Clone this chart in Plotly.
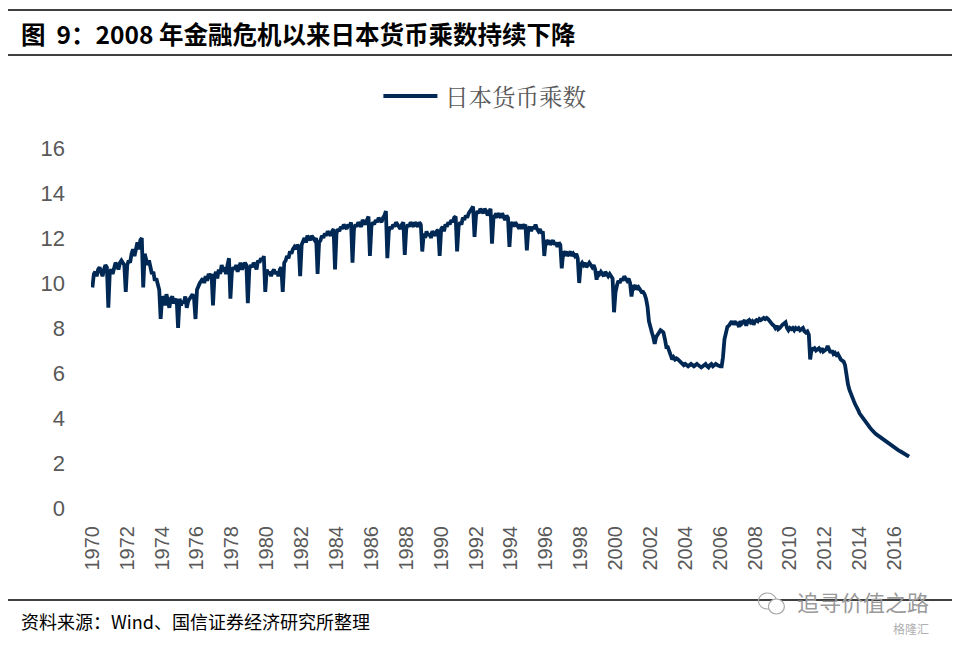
import pandas as pd
import plotly.graph_objects as go

# Monthly Japanese money multiplier, Jan 1970 .. Nov 2016
values_1970s = [
    9.8, 10.4, 10.5, 10.3, 10.6, 10.7, 10.5, 10.3, 10.6, 10.8, 10.7, 8.9,
    10.5, 10.6, 10.4, 10.7, 10.9, 10.8, 10.6, 10.9, 11.0, 10.9, 10.8, 9.6,
    10.8, 11.0, 10.9, 11.3, 11.5, 11.2, 11.6, 11.8, 11.5, 11.9, 12.0, 9.8,
    11.3, 11.1, 10.8, 11.0, 10.6, 10.4, 10.5, 10.1, 10.2, 9.9, 9.7, 8.4,
    9.4, 9.3, 9.0, 9.5, 9.2, 8.9, 9.3, 9.4, 9.1, 9.2, 9.3, 8.0,
    9.3, 9.0, 9.2, 9.1, 9.4, 8.9, 9.2, 9.3, 9.4, 9.5, 9.3, 8.4,
    9.7, 9.9, 10.0, 10.1, 10.2, 10.0, 10.3, 10.1, 10.4, 10.3, 10.4, 9.0,
    10.3, 10.5, 10.2, 10.6, 10.4, 10.8, 10.5, 10.7, 10.4, 10.8, 11.1, 9.3,
    10.5, 10.7, 10.6, 10.8, 10.5, 10.7, 10.9, 10.6, 10.8, 10.9, 10.8, 9.1,
    10.6, 10.8, 10.7, 10.9, 10.8, 10.6, 11.0, 10.9, 11.1, 11.0, 11.2, 9.6,
]
values_1980s = [
    10.6, 10.4, 10.5, 10.3, 10.5, 10.6, 10.4, 10.5, 10.3, 10.6, 10.7, 9.6,
    10.9, 11.0, 11.2, 11.1, 11.4, 11.3, 11.5, 11.6, 11.5, 11.7, 11.6, 10.3,
    11.7, 11.9, 12.0, 11.8, 12.1, 12.0, 11.9, 12.1, 12.0, 11.9, 12.0, 10.4,
    11.8, 11.9, 12.1, 12.0, 12.2, 12.1, 12.3, 12.2, 12.1, 12.3, 12.4, 10.6,
    12.2, 12.4, 12.3, 12.5, 12.4, 12.6, 12.5, 12.4, 12.6, 12.5, 12.7, 10.9,
    12.4, 12.6, 12.5, 12.7, 12.6, 12.5, 12.8, 12.7, 12.6, 12.8, 12.95, 11.2,
    12.5, 12.7, 12.6, 12.8, 12.7, 12.9, 12.8, 12.7, 12.9, 13.0, 13.2, 11.1,
    12.3, 12.5, 12.4, 12.6, 12.5, 12.7, 12.6, 12.5, 12.4, 12.6, 12.7, 11.25,
    12.4, 12.6, 12.5, 12.7, 12.6, 12.5, 12.7, 12.6, 12.5, 12.7, 12.6, 11.4,
    12.2, 12.0, 12.3, 12.1, 12.2, 12.0, 12.3, 12.2, 12.1, 12.3, 12.35, 11.2,
]
values_1990s = [
    12.4, 12.5, 12.3, 12.6, 12.5, 12.7, 12.6, 12.8, 12.7, 12.9, 12.95, 11.4,
    12.5, 12.7, 12.6, 12.9, 12.8, 13.0, 12.9, 13.1, 13.2, 13.3, 13.4, 12.05,
    13.0, 13.2, 13.1, 13.3, 13.2, 13.1, 13.3, 13.2, 13.0, 13.2, 13.3, 11.75,
    12.9, 13.0, 12.9, 13.1, 13.0, 12.9, 13.1, 12.9, 12.8, 13.0, 12.9, 11.6,
    12.6, 12.7, 12.5, 12.7, 12.6, 12.5, 12.6, 12.4, 12.6, 12.5, 12.6, 11.45,
    12.4, 12.5, 12.3, 12.5, 12.4, 12.6, 12.4, 12.3, 12.4, 12.2, 12.3, 11.2,
    11.9, 11.8, 11.9, 11.7, 11.8, 11.9, 11.7, 11.8, 11.6, 11.8, 11.7, 10.65,
    11.4, 11.3, 11.4, 11.2, 11.3, 11.4, 11.2, 11.3, 11.2, 11.3, 11.1, 10.0,
    10.8, 10.9, 10.8, 10.9, 10.7, 10.8, 10.9, 10.8, 10.7, 10.8, 10.6, 10.15,
    10.5, 10.4, 10.5, 10.4, 10.3, 10.5, 10.4, 10.3, 10.4, 10.3, 10.2, 8.7,
]
values_2000s = [
    9.6, 9.9, 10.1, 10.0, 10.2, 10.1, 10.3, 10.2, 10.1, 10.2, 10.0, 9.4,
    9.9, 9.8, 9.9, 9.7, 9.8, 9.7, 9.6, 9.6, 9.5, 9.3, 8.95, 8.3,
    7.95, 7.8, 7.6, 7.3, 7.6, 7.7, 7.85, 7.9, 7.85, 7.8, 7.5, 7.15,
    7.15, 7.0, 6.8, 6.6, 6.7, 6.6, 6.65, 6.6, 6.55, 6.5, 6.4, 6.35,
    6.4, 6.35, 6.3, 6.35, 6.4, 6.35, 6.3, 6.35, 6.4, 6.35, 6.3, 6.25,
    6.3, 6.35, 6.4, 6.3, 6.25, 6.35, 6.4, 6.3, 6.35, 6.4, 6.35, 6.3,
    6.3, 6.3, 6.7, 7.5, 7.9, 8.05, 8.1, 8.2, 8.3, 8.15, 8.3, 8.2,
    8.2, 8.05, 8.3, 8.2, 8.25, 8.35, 8.1, 8.3, 8.35, 8.25, 8.3, 8.15,
    8.3, 8.35, 8.3, 8.4, 8.35, 8.4, 8.45, 8.4, 8.45, 8.4, 8.3, 8.2,
    8.15, 8.1, 8.0, 8.1, 7.95, 8.0, 8.1, 8.15, 8.2, 8.25, 8.0, 7.9,
]
values_2010s = [
    8.0, 7.95, 8.0, 7.9, 8.0, 7.95, 8.0, 7.9, 7.95, 8.0, 7.85, 7.8,
    7.85, 7.7, 6.6, 7.1, 7.05, 7.1, 7.0, 7.05, 7.1, 7.0, 7.1, 6.95,
    7.0, 7.05, 7.2, 7.0, 6.9, 7.0, 6.85, 6.9, 6.8, 6.85, 6.7, 6.6,
    6.55, 6.5, 6.35, 5.8, 5.5, 5.25, 5.05, 4.9, 4.75, 4.6, 4.5, 4.35,
    4.2, 4.1, 4.0, 3.95, 3.85, 3.75, 3.65, 3.58, 3.5, 3.42, 3.36, 3.3,
    3.25, 3.2, 3.15, 3.1, 3.05, 3.0, 2.95, 2.92, 2.88, 2.84, 2.8, 2.75,
    2.68, 2.64, 2.6, 2.55, 2.52, 2.48, 2.45, 2.42, 2.38, 2.33, 2.28,
]
start_month = "1970-01-01"
series_name = "日本货币乘数"
y_ticks = [0, 2, 4, 6, 8, 10, 12, 14, 16]

title_text = "<b>图  9：2008 年金融危机以来日本货币乘数持续下降</b>"
source_text = "资料来源：Wind、国信证券经济研究所整理"

values = values_1970s + values_1980s + values_1990s + values_2000s + values_2010s
dates = pd.date_range(start=start_month, periods=len(values), freq="MS")

# page has an 8px body margin; figure sized to fill the 960x645 window
OFF = 8
W, H = 960 - 2 * OFF, 645 - 2 * OFF
PL, PR, PT, PB = 90.6, 911.6, 148, 508          # plot area in page pixels
pw, ph = PR - PL, PB - PT


def px(x):
    return (x - PL) / pw


def py(y):
    return (PB - y) / ph


NAVY = "#002855"

fig = go.Figure()
fig.add_trace(go.Scatter(
    x=dates, y=values, mode="lines", name=series_name,
    line=dict(color=NAVY, width=3.8),
))

fig.update_layout(
    width=W, height=H,
    margin=dict(l=PL - OFF, r=OFF + W - PR, t=PT - OFF, b=OFF + H - PB),
    paper_bgcolor="white", plot_bgcolor="white",
    showlegend=False,
    xaxis=dict(
        type="date",
        range=["1969-12-03", "2017-01-01"],
        tick0="1970-01-01", dtick="M24", tickformat="%Y",
        tickangle=-90,
        tickfont=dict(family="Liberation Sans", size=20, color="#595959"),
        showgrid=False, zeroline=False, showline=False, ticks="",
        ticklabelstandoff=13,
    ),
    yaxis=dict(
        range=[0, 16], tickvals=y_ticks,
        tickfont=dict(family="Liberation Sans", size=22, color="#595959"),
        showgrid=False, zeroline=False, showline=False, ticks="",
        ticklabelstandoff=25,
    ),
)

# legend (drawn to match the long key line of the original)
fig.add_shape(type="line", xref="paper", yref="paper",
              x0=px(383), x1=px(437), y0=py(96), y1=py(96),
              line=dict(color=NAVY, width=4))
fig.add_annotation(
    text=series_name, xref="paper", yref="paper",
    x=px(443), y=py(96), xanchor="left", yanchor="middle", showarrow=False,
    font=dict(family="Noto Serif CJK SC, Noto Sans CJK SC", size=23.5, color="#595959"),
)

# header / footer rules
for yy in (10, 55, 600):
    fig.add_shape(type="line", xref="paper", yref="paper",
                  x0=px(5), x1=px(955), y0=py(yy), y1=py(yy),
                  line=dict(color="black", width=1.3))

fig.add_annotation(
    text=title_text, xref="paper", yref="paper",
    x=px(19), y=py(33), xanchor="left", yanchor="middle", showarrow=False,
    font=dict(family="Noto Sans CJK SC", size=24.5, color="black"),
)
fig.add_annotation(
    text=source_text, xref="paper", yref="paper",
    x=px(19), y=py(621), xanchor="left", yanchor="middle", showarrow=False,
    font=dict(family="Noto Sans CJK SC", size=18, color="black"),
)

# watermark
fig.add_shape(type="circle", xref="paper", yref="paper",
              x0=px(758), x1=px(776), y0=py(593), y1=py(609),
              line=dict(color="#a8a8a8", width=1.2))
fig.add_shape(type="circle", xref="paper", yref="paper",
              x0=px(768), x1=px(784), y0=py(599), y1=py(614),
              line=dict(color="#a8a8a8", width=1.2), fillcolor="white")
fig.add_annotation(
    text="追寻价值之路", xref="paper", yref="paper",
    x=px(930), y=py(601), xanchor="right", yanchor="middle", showarrow=False,
    font=dict(family="Noto Sans CJK SC", size=22, color="#9a9a9a"),
    borderpad=0,
)
fig.add_annotation(
    text="格隆汇", xref="paper", yref="paper",
    x=px(930), y=py(628), xanchor="right", yanchor="middle", showarrow=False,
    font=dict(family="Noto Sans CJK SC", size=12, color="#b0b0b0"),
    borderpad=0,
)

fig.write_html("out.html")
